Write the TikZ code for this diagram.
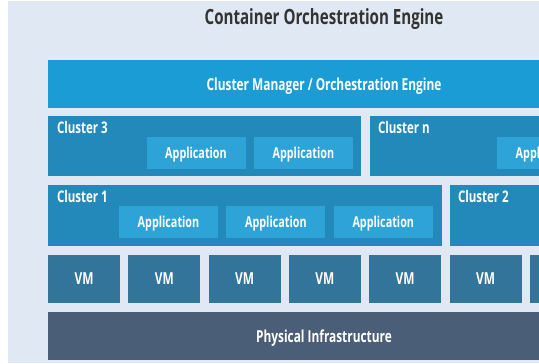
\documentclass[tikz,border=0pt]{standalone}
\usepackage{fontspec}
\setmainfont{Open Sans}[FakeStretch=0.72]
\usepackage{tikz}
\usetikzlibrary{positioning}

\definecolor{panelbg}{RGB}{224,232,243}
\definecolor{titlegray}{RGB}{51,51,51}
\definecolor{managerblue}{RGB}{27,156,213}
\definecolor{clusterblue}{RGB}{35,137,186}
\definecolor{appblue}{RGB}{46,163,216}
\definecolor{vmblue}{RGB}{51,116,154}
\definecolor{physgray}{RGB}{74,94,120}

\begin{document}
\begin{tikzpicture}[x=1pt,y=-1pt,
  every node/.style={inner sep=0pt,text=white,font=\bfseries},
  layer/.style={minimum width=552pt,minimum height=48pt,text depth=0pt,font=\fontsize{16.5}{18}\selectfont\bfseries},
  cluster/.style={fill=clusterblue,minimum height=61pt},
  clusterlabel/.style={anchor=west,font=\fontsize{16}{18}\selectfont\bfseries},
  app/.style={fill=appblue,minimum width=99pt,minimum height=32pt,text depth=0pt,font=\fontsize{15}{17}\selectfont\bfseries},
  vm/.style={fill=vmblue,minimum width=72pt,minimum height=48pt,font=\fontsize{16.5}{18}\selectfont\bfseries}]
\useasboundingbox (0,0) rectangle (539,364);
\clip (0,0) rectangle (539,364);
\fill[panelbg] (8,1) rectangle (600,363);

% title
\node[text=titlegray,font=\fontsize{21}{24}\selectfont\bfseries] (title) at (324,19) {Container Orchestration Engine};

% orchestration layer
\node[layer,fill=managerblue] (manager) at (324,84) {Cluster Manager / Orchestration Engine};

% clusters, upper row
\node[cluster,minimum width=313pt,minimum height=60pt] (c3) at (204.5,146) {};
\node[clusterlabel] (c3label) at ([shift={(9,12)}]c3.north west) {Cluster 3};
\node[app] (c3app1) at (196,153) {Application};
\node[app,right=8pt of c3app1] (c3app2) {Application};

\node[cluster,minimum width=320pt,minimum height=60pt] (cn) at (530,146) {};
\node[clusterlabel] (cnlabel) at ([shift={(8,12)}]cn.north west) {Cluster n};
\node[app] (cnapp1) at (546.5,153) {Application};

% clusters, lower row
\node[cluster,minimum width=393.5pt] (c1) at (244.75,215.5) {};
\node[clusterlabel] (c1label) at ([shift={(9,12)}]c1.north west) {Cluster 1};
\node[app] (c1app1) at (168.5,222) {Application};
\node[app,right=8pt of c1app1] (c1app2) {Application};
\node[app,right=8pt of c1app2] (c1app3) {Application};

\node[cluster,minimum width=350pt] (c2) at (625,215.5) {};
\node[clusterlabel] (c2label) at ([shift={(8,12)}]c2.north west) {Cluster 2};

% virtual machines
\foreach \i in {0,...,6}
  \node[vm] (vm\i) at (84+80.3*\i,279) {VM};

% hardware
\node[layer,fill=physgray] (phys) at (324,336) {Physical Infrastructure};
\end{tikzpicture}
\end{document}
